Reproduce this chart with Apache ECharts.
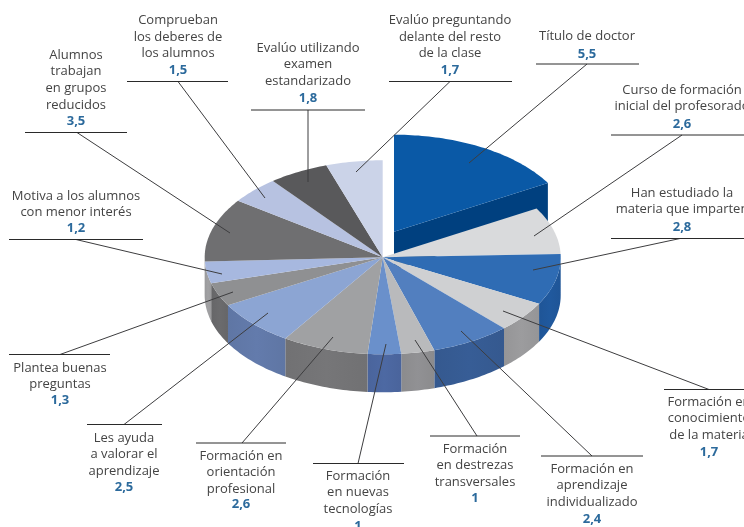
<!DOCTYPE html>
<html>
<head>
<meta charset="utf-8">
<style>html,body{margin:0;padding:0;background:#fff}#chart{width:744px;height:527px}</style>
<script src="https://cdn.jsdelivr.net/npm/echarts@6/dist/echarts.min.js"></script>
</head>
<body>
<div id="chart"></div>
<script>
// Slices, clockwise from twelve o'clock.
const categories = [
  ['Título de doctor'],
  ['Curso de formación', 'inicial del profesorado'],
  ['Han estudiado la', 'materia que imparten'],
  ['Formación en', 'conocimiento', 'de la materia'],
  ['Formación en', 'aprendizaje', 'individualizado'],
  ['Formación', 'en destrezas', 'transversales'],
  ['Formación', 'en nuevas', 'tecnologías'],
  ['Formación en', 'orientación', 'profesional'],
  ['Les ayuda', 'a valorar el', 'aprendizaje'],
  ['Plantea buenas', 'preguntas'],
  ['Motiva a los alumnos', 'con menor interés'],
  ['Alumnos', 'trabajan', 'en grupos', 'reducidos'],
  ['Comprueban', 'los deberes de', 'los alumnos'],
  ['Evalúo utilizando', 'examen', 'estandarizado'],
  ['Evalúo preguntando', 'delante del resto', 'de la clase']
];
const values = [5.5, 2.6, 2.8, 1.7, 2.4, 1, 1, 2.6, 2.5, 1.3, 1.2, 3.5, 1.5, 1.8, 1.7];
const explodedFlags = [1, 0, 0, 0, 0, 0, 0, 0, 0, 0, 0, 0, 0, 0, 0];

// Face and wall colours per slice.
const topColors = ['#0A59A6', '#D9DADC', '#2F6CB4', '#CFD0D2', '#527FBF', '#B9BABC', '#6A90CB', '#A0A1A3',
  '#8CA5D3', '#8F9092', '#A7B8DF', '#6F6F71', '#B7C2E1', '#59595B', '#CBD3E8'];
const wallColors = ['#00407F', '#B5B6B8', '#1F5597', '#959597', '#35598F', '#8B8B8D', '#4A649C', '#717173',
  '#5F76A4', '#666668', '#9A9A9C', '#666668', '#8C97B5', '#444446', '#A0A8BE'];

// Ellipse of the top face, wall depth and the pull-out of the exploded slice.
const pie = { cx: 382.7, cy: 257.3, rx: 178, ry: 97, depth: 38, pullX: 11.3, pullY: -25.6 };

// Callout placement: text centre, first-line y, value y, rule and leader line.
const callouts = [
  { cx: 587, y: 36, valueY: 54, rule: [536, 639, 64], leader: [587, 64, 469, 163] },
  { cx: 682, y: 90, valueY: 124, rule: [611, 744, 135], leader: [682, 135, 534, 236] },
  { cx: 682, y: 193, valueY: 227, rule: [611, 744, 238.5], leader: [680, 238.5, 533, 270] },
  { cx: 709, y: 402, valueY: 452, rule: [664, 744, 389.5], leader: [709, 389.5, 503, 311] },
  { cx: 592, y: 469, valueY: 519, rule: [541, 643, 456], leader: [592, 456, 461, 331] },
  { cx: 475, y: 449, valueY: 498, rule: [430, 520, 436], leader: [477, 436, 415, 340] },
  { cx: 358, y: 476, valueY: 526, rule: [313, 404, 463.5], leader: [358, 463.5, 386, 344] },
  { cx: 241, y: 456, valueY: 504, rule: [196, 286, 443], leader: [242, 443, 333, 337] },
  { cx: 124, y: 438, valueY: 487, rule: [87, 162, 424.5], leader: [124, 424.5, 268, 313] },
  { cx: 60, y: 368, valueY: 400, rule: [9, 110, 354.5], leader: [60, 354.5, 233, 292] },
  { cx: 76, y: 196, valueY: 228, rule: [9, 143, 239.5], leader: [76, 239.5, 222, 274] },
  { cx: 76, y: 55, valueY: 121, rule: [25, 127, 132.5], leader: [77, 132.5, 230, 233] },
  { cx: 178, y: 20.5, valueY: 70.5, rule: [127, 228, 81.5], leader: [178, 81.5, 265, 198] },
  { cx: 308, y: 48, valueY: 98, rule: [251, 365, 110], leader: [308, 110, 308, 182] },
  { cx: 450, y: 20.5, valueY: 70.5, rule: [389, 512, 81.5], leader: [450, 81.5, 356, 172] }
];

const LINE_PITCH = 16.6;
const total = values.reduce((a, b) => a + b, 0);

function rimPoint(angle, ox, oy) {
  return [ox + pie.rx * Math.sin(angle), oy - pie.ry * Math.cos(angle)];
}
function arcPoints(a0, a1, ox, oy) {
  const steps = Math.max(2, Math.ceil((a1 - a0) / 0.02));
  const pts = [];
  for (let i = 0; i <= steps; i++) pts.push(rimPoint(a0 + (a1 - a0) * i / steps, ox, oy));
  return pts;
}
function wallShade(color) {
  return {
    type: 'linear', x: 0, y: 0, x2: 1, y2: 0,
    colorStops: [
      { offset: 0, color: color },
      { offset: 0.5, color: echarts.color.lift(color, -0.05) },
      { offset: 1, color: color }
    ]
  };
}

function renderSlice(params, api) {
  const i = params.dataIndex;
  const before = api.value(1);
  const a0 = before / total * Math.PI * 2;
  const a1 = (before + api.value(0)) / total * Math.PI * 2;
  const pulled = api.value(2) === 1;
  const ox = pie.cx + (pulled ? pie.pullX : 0);
  const oy = pie.cy + (pulled ? pie.pullY : 0);
  const children = [];

  // Radial cut of the pulled slice, seen from the front.
  if (pulled) {
    const p = rimPoint(a1, ox, oy);
    children.push({
      type: 'polygon',
      shape: { points: [[ox, oy], p, [p[0], p[1] + pie.depth], [ox, oy + pie.depth]] },
      style: { fill: wallColors[i] }
    });
  }
  // Outer wall: only the stretch on the near half of the ellipse shows.
  const w0 = Math.max(a0, Math.PI / 2);
  const w1 = Math.min(a1, Math.PI * 1.5);
  if (w1 > w0) {
    const upper = arcPoints(w0, w1, ox, oy);
    const lower = arcPoints(w0, w1, ox, oy + pie.depth).reverse();
    children.push({
      type: 'polygon',
      shape: { points: upper.concat(lower) },
      style: { fill: wallShade(wallColors[i]) }
    });
  }
  // Top face.
  children.push({
    type: 'polygon',
    shape: { points: [[ox, oy]].concat(arcPoints(a0, a1, ox, oy)) },
    style: { fill: topColors[i] }
  });
  return { type: 'group', children };
}

let running = 0;
const sliceData = values.map((v, i) => {
  const row = [v, running, explodedFlags[i]];
  running += v;
  return row;
});

// Leader lines, rules and captions over the pie.
const TEXT_FONT = '"Open Sans", sans-serif';
const graphics = [];
callouts.forEach((c, i) => {
  const [x1, y1, x2, y2] = c.leader;
  graphics.push({ type: 'line', z: 10, shape: { x1, y1, x2, y2 }, style: { stroke: '#3d3d3f', lineWidth: 1 } });
  graphics.push({ type: 'line', z: 10, shape: { x1: c.rule[0], y1: c.rule[2], x2: c.rule[1], y2: c.rule[2] }, style: { stroke: '#2a2a2a', lineWidth: 1 } });
  categories[i].forEach((line, k) => {
    graphics.push({
      type: 'text', z: 11, x: c.cx, y: c.y + k * LINE_PITCH,
      style: { text: line, fill: '#444444', font: '13px ' + TEXT_FONT, textAlign: 'center', textVerticalAlign: 'middle' }
    });
  });
  graphics.push({
    type: 'text', z: 11, x: c.cx, y: c.valueY,
    style: { text: String(values[i]).replace('.', ','), fill: '#2C6A9C', font: 'bold 13px ' + TEXT_FONT, textAlign: 'center', textVerticalAlign: 'middle' }
  });
});

const chart = echarts.init(document.getElementById('chart'), null, { renderer: 'canvas' });
chart.setOption({
  animation: false,
  backgroundColor: '#ffffff',
  series: [{ type: 'custom', coordinateSystem: 'none', renderItem: renderSlice, data: sliceData, silent: true }],
  graphic: graphics
});
</script>
</body>
</html>
